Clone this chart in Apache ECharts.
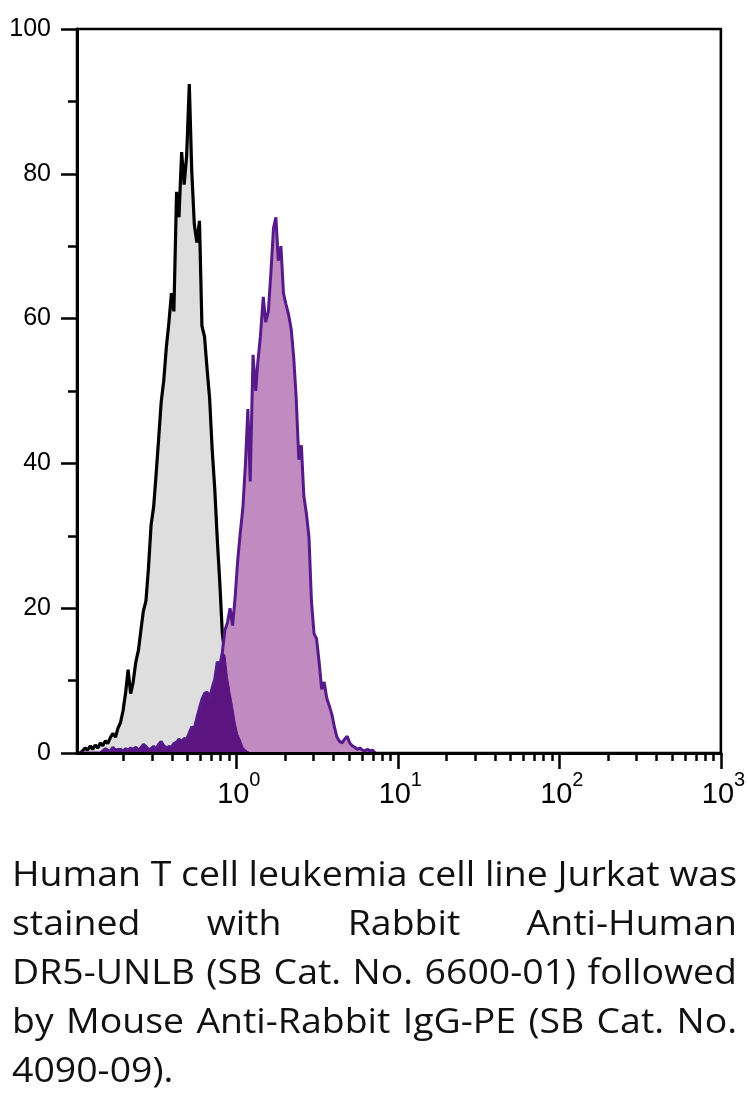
<!DOCTYPE html>
<html>
<head>
<meta charset="utf-8">
<script src="https://cdn.jsdelivr.net/npm/echarts@6/dist/echarts.min.js"></script>
<style>
html,body{margin:0;padding:0;background:#fff;}
#chart{width:748px;height:1097px;}
</style>
</head>
<body>
<div id="chart"></div>
<script>
// ---- data ----
const channels = [0.108,0.112,0.116,0.120,0.125,0.129,0.134,0.139,0.144,0.149,
  0.155,0.160,0.166,0.172,0.179,0.185,0.192,0.199,0.207,0.214,
  0.222,0.230,0.239,0.248,0.257,0.266,0.276,0.286,0.297,0.308,
  0.319,0.331,0.343,0.356,0.369,0.383,0.397,0.411,0.427,0.442,
  0.459,0.476,0.493,0.512,0.530,0.550,0.570,0.592,0.613,0.636,
  0.660,0.684,0.709,0.736,0.763,0.791,0.820,0.851,0.882,0.915,
  0.949,0.984,1.02,1.06,1.10,1.14,1.18,1.22,1.27,1.32,
  1.36,1.41,1.47,1.52,1.58,1.64,1.70,1.76,1.82,1.89,
  1.96,2.03,2.11,2.19,2.27,2.35,2.44,2.53,2.62,2.72,
  2.82,2.92,3.03,3.14,3.26,3.38,3.50,3.63,3.77,3.91,
  4.05,4.20,4.36,4.52,4.68,4.86,5.04,5.22,5.42,5.62,
  5.82,6.04,6.26,6.49,6.73,6.98,7.24];

const controlCounts = [0,0.3,0.7,0.4,1.0,0.5,1.1,0.7,1.4,1.0,
  1.7,1.3,2.1,2.7,2.2,3.4,4.2,5.8,8.5,11.5,
  8.2,9.8,12.6,14.2,17.0,19.6,21.0,25.5,31.5,34.0,
  38.5,43.5,48.5,51.5,56.0,59.5,63.5,61.0,77.5,74.0,
  83.0,78.5,82.5,92.4,80.5,73.0,70.5,73.5,59.0,57.5,
  53.0,49.0,42.0,36.5,29.5,23.5,16.5,13.5,10.5,8.3,
  6.4,4.2,2.6,1.8,0.8,0.4,0.2,0,0,0,
  0,0,0,0,0,0,0,0,0,0,
  0,0,0,0,0,0,0,0,0,0,
  0,0,0,0,0,0,0,0,0,0,
  0,0,0,0,0,0,0,0,0,0,
  0,0,0,0,0,0,0];

const stainedCounts = [0,0,0,0,0,0,0,0,0,0.3,
  0.6,0.4,0.2,0.8,0.4,0.5,0.5,0.3,0.6,0.4,
  0.7,0.5,0.8,0.4,0.7,1.2,0.9,0.5,0.6,0.9,
  0.6,1.2,1.6,1.0,0.7,0.9,0.8,1.3,1.5,1.9,
  1.6,2.0,1.9,2.8,3.6,3.4,4.8,6.2,7.4,8.2,
  8.4,7.6,9.0,10.2,12.6,12.0,13.9,17.0,18.0,20.0,
  17.6,21.5,26.5,30.5,34.0,40.0,47.5,37.5,55.0,50.0,
  54.0,57.5,63.0,59.5,61.0,66.5,72.5,74.0,68.0,70.0,
  63.5,62.0,60.5,58.5,54.5,49.0,40.5,42.5,35.5,33.0,
  29.8,21.0,16.5,15.8,12.5,8.8,9.8,7.6,6.5,5.3,
  3.6,2.2,1.6,1.4,1.9,2.3,1.4,1.0,0.8,0.5,
  0.7,0.4,0.3,0.5,0.3,0.4,0];

const yTickValues = [0, 20, 40, 60, 80, 100];
const xMajorTicks = [1, 10, 100, 1000];
const xMinorTicks = [0.2,0.3,0.4,0.5,0.6,0.7,0.8,0.9,
  2,3,4,5,6,7,8,9,
  20,30,40,50,60,70,80,90,
  200,300,400,500,600,700,800,900];

const captionLines = [
  'Human T cell leukemia cell line Jurkat was',
  'stained with Rabbit Anti-Human',
  'DR5-UNLB (SB Cat. No. 6600-01) followed',
  'by Mouse Anti-Rabbit IgG-PE (SB Cat. No.',
  '4090-09).'
];

// ---- build ----
const controlData = channels.map((c, i) => [c, controlCounts[i]]);
const stainedData = channels.map((c, i) => [c, stainedCounts[i]]);
const overlapData = channels.map((c, i) => [c, Math.min(controlCounts[i], stainedCounts[i])]);

const AX_FONT = '"Liberation Sans", Arial, sans-serif';
const CAP_FONT_FAMILY = '"Open Sans", "Noto Sans", sans-serif';
const CAP_SIZE = 35;
const CAP_LEFT = 12;
const CAP_WIDTH = 725;
const CAP_TOP = 859;
const CAP_LINE = 49;

function buildCaption() {
  const ctx = document.createElement('canvas').getContext('2d');
  const font = CAP_SIZE + 'px ' + CAP_FONT_FAMILY;
  ctx.font = font;
  const sx = CAP_WIDTH / ctx.measureText(captionLines[0]).width;
  const spaceW = ctx.measureText(' ').width * sx;
  const els = [];
  captionLines.forEach((line, i) => {
    const words = line.split(' ');
    const widths = words.map(w => ctx.measureText(w).width * sx);
    const total = widths.reduce((a, b) => a + b, 0);
    const justify = i < captionLines.length - 1 && words.length > 1;
    const gap = justify ? (CAP_WIDTH - total) / (words.length - 1) : spaceW;
    let x = CAP_LEFT;
    words.forEach((w, j) => {
      els.push({
        type: 'text',
        x: x,
        y: CAP_TOP + i * CAP_LINE,
        scaleX: sx,
        silent: true,
        style: {
          text: w,
          font: font,
          fill: '#111',
          textAlign: 'left',
          textVerticalAlign: 'top'
        }
      });
      x += widths[j] + gap;
    });
  });
  return els;
}

const chart = echarts.init(document.getElementById('chart'), null, {renderer: 'canvas'});

const xBase = {
  type: 'log',
  logBase: 10,
  min: 0.1033,
  max: 1000,
  position: 'bottom',
  splitLine: {show: false},
  z: 10
};

chart.setOption({
  animation: false,
  backgroundColor: '#fff',
  grid: {
    left: 77, right: 27, top: 29, bottom: 344,
    show: true, borderColor: '#000', borderWidth: 2.6
  },
  xAxis: [
    // major ticks + mantissa "10"
    Object.assign({}, xBase, {
      axisLine: {show: true, lineStyle: {color: '#000', width: 3}},
      axisTick: {show: true, customValues: xMajorTicks, length: 16, lineStyle: {color: '#000', width: 2.5}},
      axisLabel: {
        show: true,
        customValues: xMajorTicks,
        margin: 27,
        color: '#000',
        fontSize: 29,
        fontFamily: AX_FONT,
        align: 'center',
        padding: [0, 6, 0, 0],
        formatter: function () { return '10'; }
      }
    }),
    // minor ticks + exponent (superscript)
    Object.assign({}, xBase, {
      axisLine: {show: false},
      axisTick: {show: true, customValues: xMinorTicks, length: 8, lineStyle: {color: '#000', width: 2.5}},
      axisLabel: {
        show: true,
        customValues: xMajorTicks,
        margin: 17,
        color: '#000',
        fontSize: 20,
        fontFamily: AX_FONT,
        align: 'left',
        padding: [0, 0, 0, 13],
        formatter: function (v) { return String(Math.round(Math.log10(v))); }
      }
    })
  ],
  yAxis: {
    type: 'value',
    min: 0,
    max: 100,
    interval: 20,
    z: 10,
    splitLine: {show: false},
    axisLine: {show: true, lineStyle: {color: '#000', width: 3}},
    axisTick: {show: true, length: 16, lineStyle: {color: '#000', width: 2.5}},
    minorTick: {show: true, splitNumber: 2, length: 9, lineStyle: {color: '#000', width: 2.5}},
    axisLabel: {
      show: true, margin: 26, color: '#000', fontSize: 25, fontFamily: AX_FONT,
      customValues: yTickValues
    }
  },
  series: [
    {
      name: 'Control', type: 'line', xAxisIndex: 0, data: controlData,
      showSymbol: false, symbol: 'none', z: 2,
      lineStyle: {color: '#000', width: 3.2},
      areaStyle: {color: '#dedede', opacity: 1}
    },
    {
      name: 'DR5 stained (area)', type: 'line', xAxisIndex: 0, data: stainedData,
      showSymbol: false, symbol: 'none', z: 3,
      lineStyle: {width: 0, opacity: 0},
      areaStyle: {color: '#c08bc0', opacity: 1}
    },
    {
      name: 'Overlap', type: 'line', xAxisIndex: 0, data: overlapData,
      showSymbol: false, symbol: 'none', z: 4,
      lineStyle: {color: '#5c1480', width: 1},
      areaStyle: {color: '#5c1480', opacity: 1}
    },
    {
      name: 'DR5 stained', type: 'line', xAxisIndex: 0, data: stainedData,
      showSymbol: false, symbol: 'none', z: 5,
      lineStyle: {color: '#561a8a', width: 3}
    }
  ],
  graphic: buildCaption()
});
</script>
</body>
</html>
